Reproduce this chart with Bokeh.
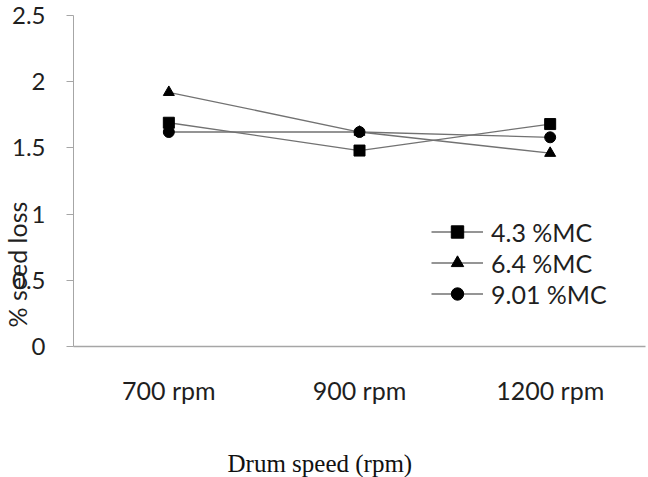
from bokeh.plotting import figure
from bokeh.models import FixedTicker, Label, Legend, LegendItem, Range1d, Title
from bokeh.embed import file_html
from bokeh.resources import INLINE

# Drum speed categories and % seed loss per moisture content
speeds = ["700 rpm", "900 rpm", "1200 rpm"]
mc_43 = [1.69, 1.48, 1.68]
mc_64 = [1.92, 1.62, 1.46]
mc_901 = [1.62, 1.62, 1.58]
series_names = ["4.3 %MC", "6.4 %MC", "9.01 %MC"]
y_ticks = [0, 0.5, 1, 1.5, 2, 2.5]
y_tick_labels = ["0", "0.5", "1", "1.5", "2", "2.5"]

xs = [i + 0.5 for i in range(len(speeds))]

p = figure(width=648, height=477, output_backend="svg", toolbar_location=None,
           x_range=Range1d(0, len(speeds)), y_range=Range1d(0, 2.5),
           min_border_left=73, min_border_right=3, min_border_top=15,
           min_border_bottom=131)
p.outline_line_color = None
p.grid.grid_line_color = None
p.background_fill_color = "white"
p.border_fill_color = "white"

axis_gray = "#a6a6a6"
text_gray = "#1f1f1f"
label_font = "Lato"

p.yaxis.ticker = FixedTicker(ticks=y_ticks)
p.yaxis.major_label_overrides = dict(zip(y_ticks, y_tick_labels))
p.yaxis.axis_line_color = axis_gray
p.yaxis.major_tick_line_color = axis_gray
p.yaxis.major_tick_out = 7
p.yaxis.major_tick_in = 0
p.yaxis.minor_tick_line_color = None
p.yaxis.major_label_text_font = label_font
p.yaxis.major_label_text_font_size = "24px"
p.yaxis.major_label_text_color = text_gray
p.yaxis.major_label_standoff = 21

p.xaxis.ticker = FixedTicker(ticks=xs)
p.xaxis.major_label_overrides = dict(zip(xs, speeds))
p.xaxis.axis_line_color = axis_gray
p.xaxis.axis_line_width = 1.5
p.xaxis.major_tick_line_color = None
p.xaxis.minor_tick_line_color = None
p.xaxis.major_label_text_font = label_font
p.xaxis.major_label_text_font_size = "25px"
p.xaxis.major_label_text_color = text_gray
p.xaxis.major_label_standoff = 22

line_color = "#727272"
items = []
for vals, name, marker in [(mc_43, series_names[0], "square"),
                           (mc_64, series_names[1], "triangle"),
                           (mc_901, series_names[2], "circle")]:
    ln = p.line(xs, vals, line_color=line_color, line_width=1.3)
    sc = p.scatter(xs, vals, marker=marker, size=11, fill_color="black",
                   line_color="black")
    items.append(LegendItem(label=name, renderers=[ln, sc]))

legend = Legend(items=items, location=(358, 37), orientation="vertical")
legend.border_line_color = None
legend.background_fill_alpha = 0
legend.glyph_width = 52
legend.glyph_height = 31
legend.spacing = 0
legend.label_height = 31
legend.label_text_font = label_font
legend.label_text_font_size = "25px"
legend.label_text_color = text_gray
legend.label_standoff = 8
legend.padding = 5
legend.margin = 0
p.add_layout(legend, "center")

# vertical axis title, shifted down along the axis and tucked against the edge
y_title = Title(text="% seed loss", align="left", offset=19,
                vertical_align="bottom", standoff=-46,
                text_font=label_font, text_font_size="25px",
                text_font_style="normal", text_color=text_gray)
p.add_layout(y_title, "left")

# horizontal axis title under the category labels
x_title = Label(x=154, y=-29, x_units="screen", y_units="screen",
                text="Drum speed (rpm)", text_font="Liberation Serif",
                text_font_size="25px", text_color="#111111",
                text_align="left", text_baseline="alphabetic")
p.add_layout(x_title, "below")

open("out.html", "w").write(file_html(p, INLINE))
